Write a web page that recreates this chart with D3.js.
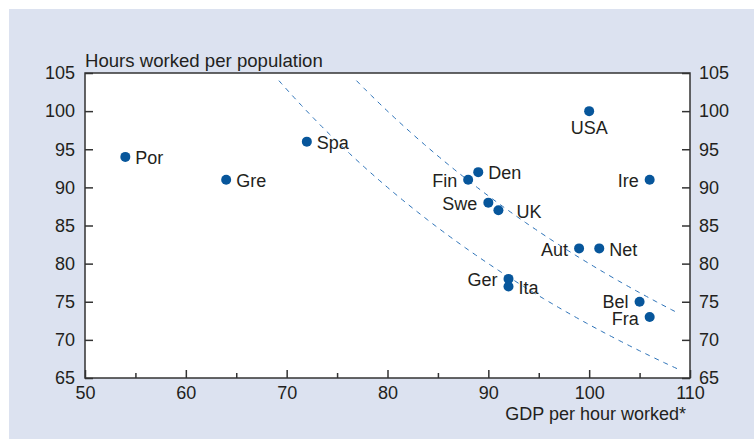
<!DOCTYPE html>
<html lang="en">
<head>
    <meta charset="UTF-8" />
    <title>Hours worked vs GDP per hour worked</title>
    <script src="https://d3js.org/d3.v7.min.js"></script>
    <style>
        body { margin: 0; background: #ffffff; }
        text { font-family: "Liberation Sans", Arial, sans-serif; fill: #231f20; }
    </style>
</head>
<body>
    <script>
        var w = 754;
        var h = 439;

        // Data
        var countries = ["Por", "Gre", "Spa", "USA", "Ire", "Den", "Fin", "Swe", "UK", "Aut", "Net", "Ger", "Ita", "Bel", "Fra"];
        var gdpPerHour = [54, 64, 72, 100, 106, 89, 88, 90, 91, 99, 101, 92, 92, 105, 106];
        var hoursWorked = [94, 91, 96, 100, 91, 92, 91, 88, 87, 82, 82, 78, 77, 75, 73];
        // where each label sits relative to its dot
        var labelSide = ["right", "right", "right", "below", "left", "right", "left", "left", "farright", "left", "right", "left", "right", "left", "left"];

        // iso GDP-per-capita curves (x * y = level), dashed
        var isoLevels = [7200, 8000];

        var xTicks = [50, 60, 70, 80, 90, 100, 110];
        var xMinorTicks = [55, 65, 75, 85, 95, 105];
        var yTicks = [65, 70, 75, 80, 85, 90, 95, 100, 105];

        var margin = { top: 73, right: 64, bottom: 61, left: 85 };
        var iw = w - margin.left - margin.right;
        var ih = h - margin.top - margin.bottom;

        var svg = d3.select("body")
            .append("svg")
            .attr("width", w)
            .attr("height", h);

        // panel background
        svg.append("rect")
            .attr("x", 9)
            .attr("y", 9)
            .attr("width", w - 9)
            .attr("height", h - 9)
            .attr("fill", "#dce2f0");

        var g = svg.append("g")
            .attr("transform", "translate(" + margin.left + "," + margin.top + ")");

        g.append("rect")
            .attr("width", iw)
            .attr("height", ih)
            .attr("fill", "#ffffff");

        // Scales
        var xScale = d3.scaleLinear().domain([50, 110]).range([0, iw]);
        var yScale = d3.scaleLinear().domain([65, 105]).range([ih, 0]);

        // dashed curves
        var line = d3.line()
            .x(function(d) { return xScale(d[0]); })
            .y(function(d) { return yScale(d[1]); });

        isoLevels.forEach(function(k) {
            var x0 = k / 104;
            var pts = d3.range(x0, 109.01, 0.25).map(function(x) { return [x, k / x]; });
            g.append("path")
                .attr("d", line(pts))
                .attr("fill", "none")
                .attr("stroke", "#2c72b8")
                .attr("stroke-width", 1)
                .attr("stroke-dasharray", "5,5");
        });

        // Axes
        var fontSize = 18;

        var yLeft = g.append("g")
            .call(d3.axisLeft(yScale).tickValues(yTicks).tickSize(-8).tickPadding(10));
        var yRight = g.append("g")
            .attr("transform", "translate(" + iw + ",0)")
            .call(d3.axisRight(yScale).tickValues(yTicks).tickSize(-8).tickPadding(9));
        var xMinor = g.append("g")
            .attr("transform", "translate(0," + ih + ")")
            .call(d3.axisBottom(xScale).tickValues(xMinorTicks).tickSize(-5).tickFormat(""));
        var xMajor = g.append("g")
            .attr("transform", "translate(0," + ih + ")")
            .call(d3.axisBottom(xScale).tickValues(xTicks).tickSize(-8).tickPadding(8));

        [yLeft, yRight, xMinor, xMajor].forEach(function(ax) {
            ax.select(".domain").remove();
            ax.selectAll("line").attr("stroke", "#333333").attr("stroke-width", 1.5);
            ax.selectAll("text")
                .attr("fill", "#231f20")
                .style("font-size", fontSize + "px")
                .style("font-family", "'Liberation Sans', Arial, sans-serif");
        });

        // frame
        g.append("rect")
            .attr("width", iw)
            .attr("height", ih)
            .attr("fill", "none")
            .attr("stroke", "#333333")
            .attr("stroke-width", 1.5);

        // Dots
        var idx = d3.range(countries.length);

        g.selectAll("circle")
            .data(idx)
            .enter()
            .append("circle")
            .attr("cx", function(i) { return xScale(gdpPerHour[i]); })
            .attr("cy", function(i) { return yScale(hoursWorked[i]); })
            .attr("r", 5)
            .attr("fill", "#07569b");

        // Labels
        g.selectAll("text.lbl")
            .data(idx)
            .enter()
            .append("text")
            .attr("class", "lbl")
            .text(function(i) { return countries[i]; })
            .style("font-size", fontSize + "px")
            .attr("x", function(i) {
                var x = xScale(gdpPerHour[i]);
                var s = labelSide[i];
                if (s === "right") return x + 10;
                if (s === "farright") return x + 18;
                if (s === "left") return x - 11;
                return x;
            })
            .attr("y", function(i) {
                var y = yScale(hoursWorked[i]);
                if (labelSide[i] === "below") return y + 17;
                // keep Bel and Fra just apart
                if (countries[i] === "Bel") return y;
                if (countries[i] === "Fra") return y + 2;
                return y + 1;
            })
            .attr("dy", "0.35em")
            .attr("text-anchor", function(i) {
                var s = labelSide[i];
                if (s === "left") return "end";
                if (s === "below") return "middle";
                return "start";
            });

        // Axis titles
        svg.append("text")
            .attr("x", margin.left)
            .attr("y", 67)
            .style("font-size", "18.6px")
            .text("Hours worked per population");

        svg.append("text")
            .attr("x", 686)
            .attr("y", 420)
            .attr("text-anchor", "end")
            .style("font-size", fontSize + "px")
            .text("GDP per hour worked*");
    </script>
</body>
</html>
